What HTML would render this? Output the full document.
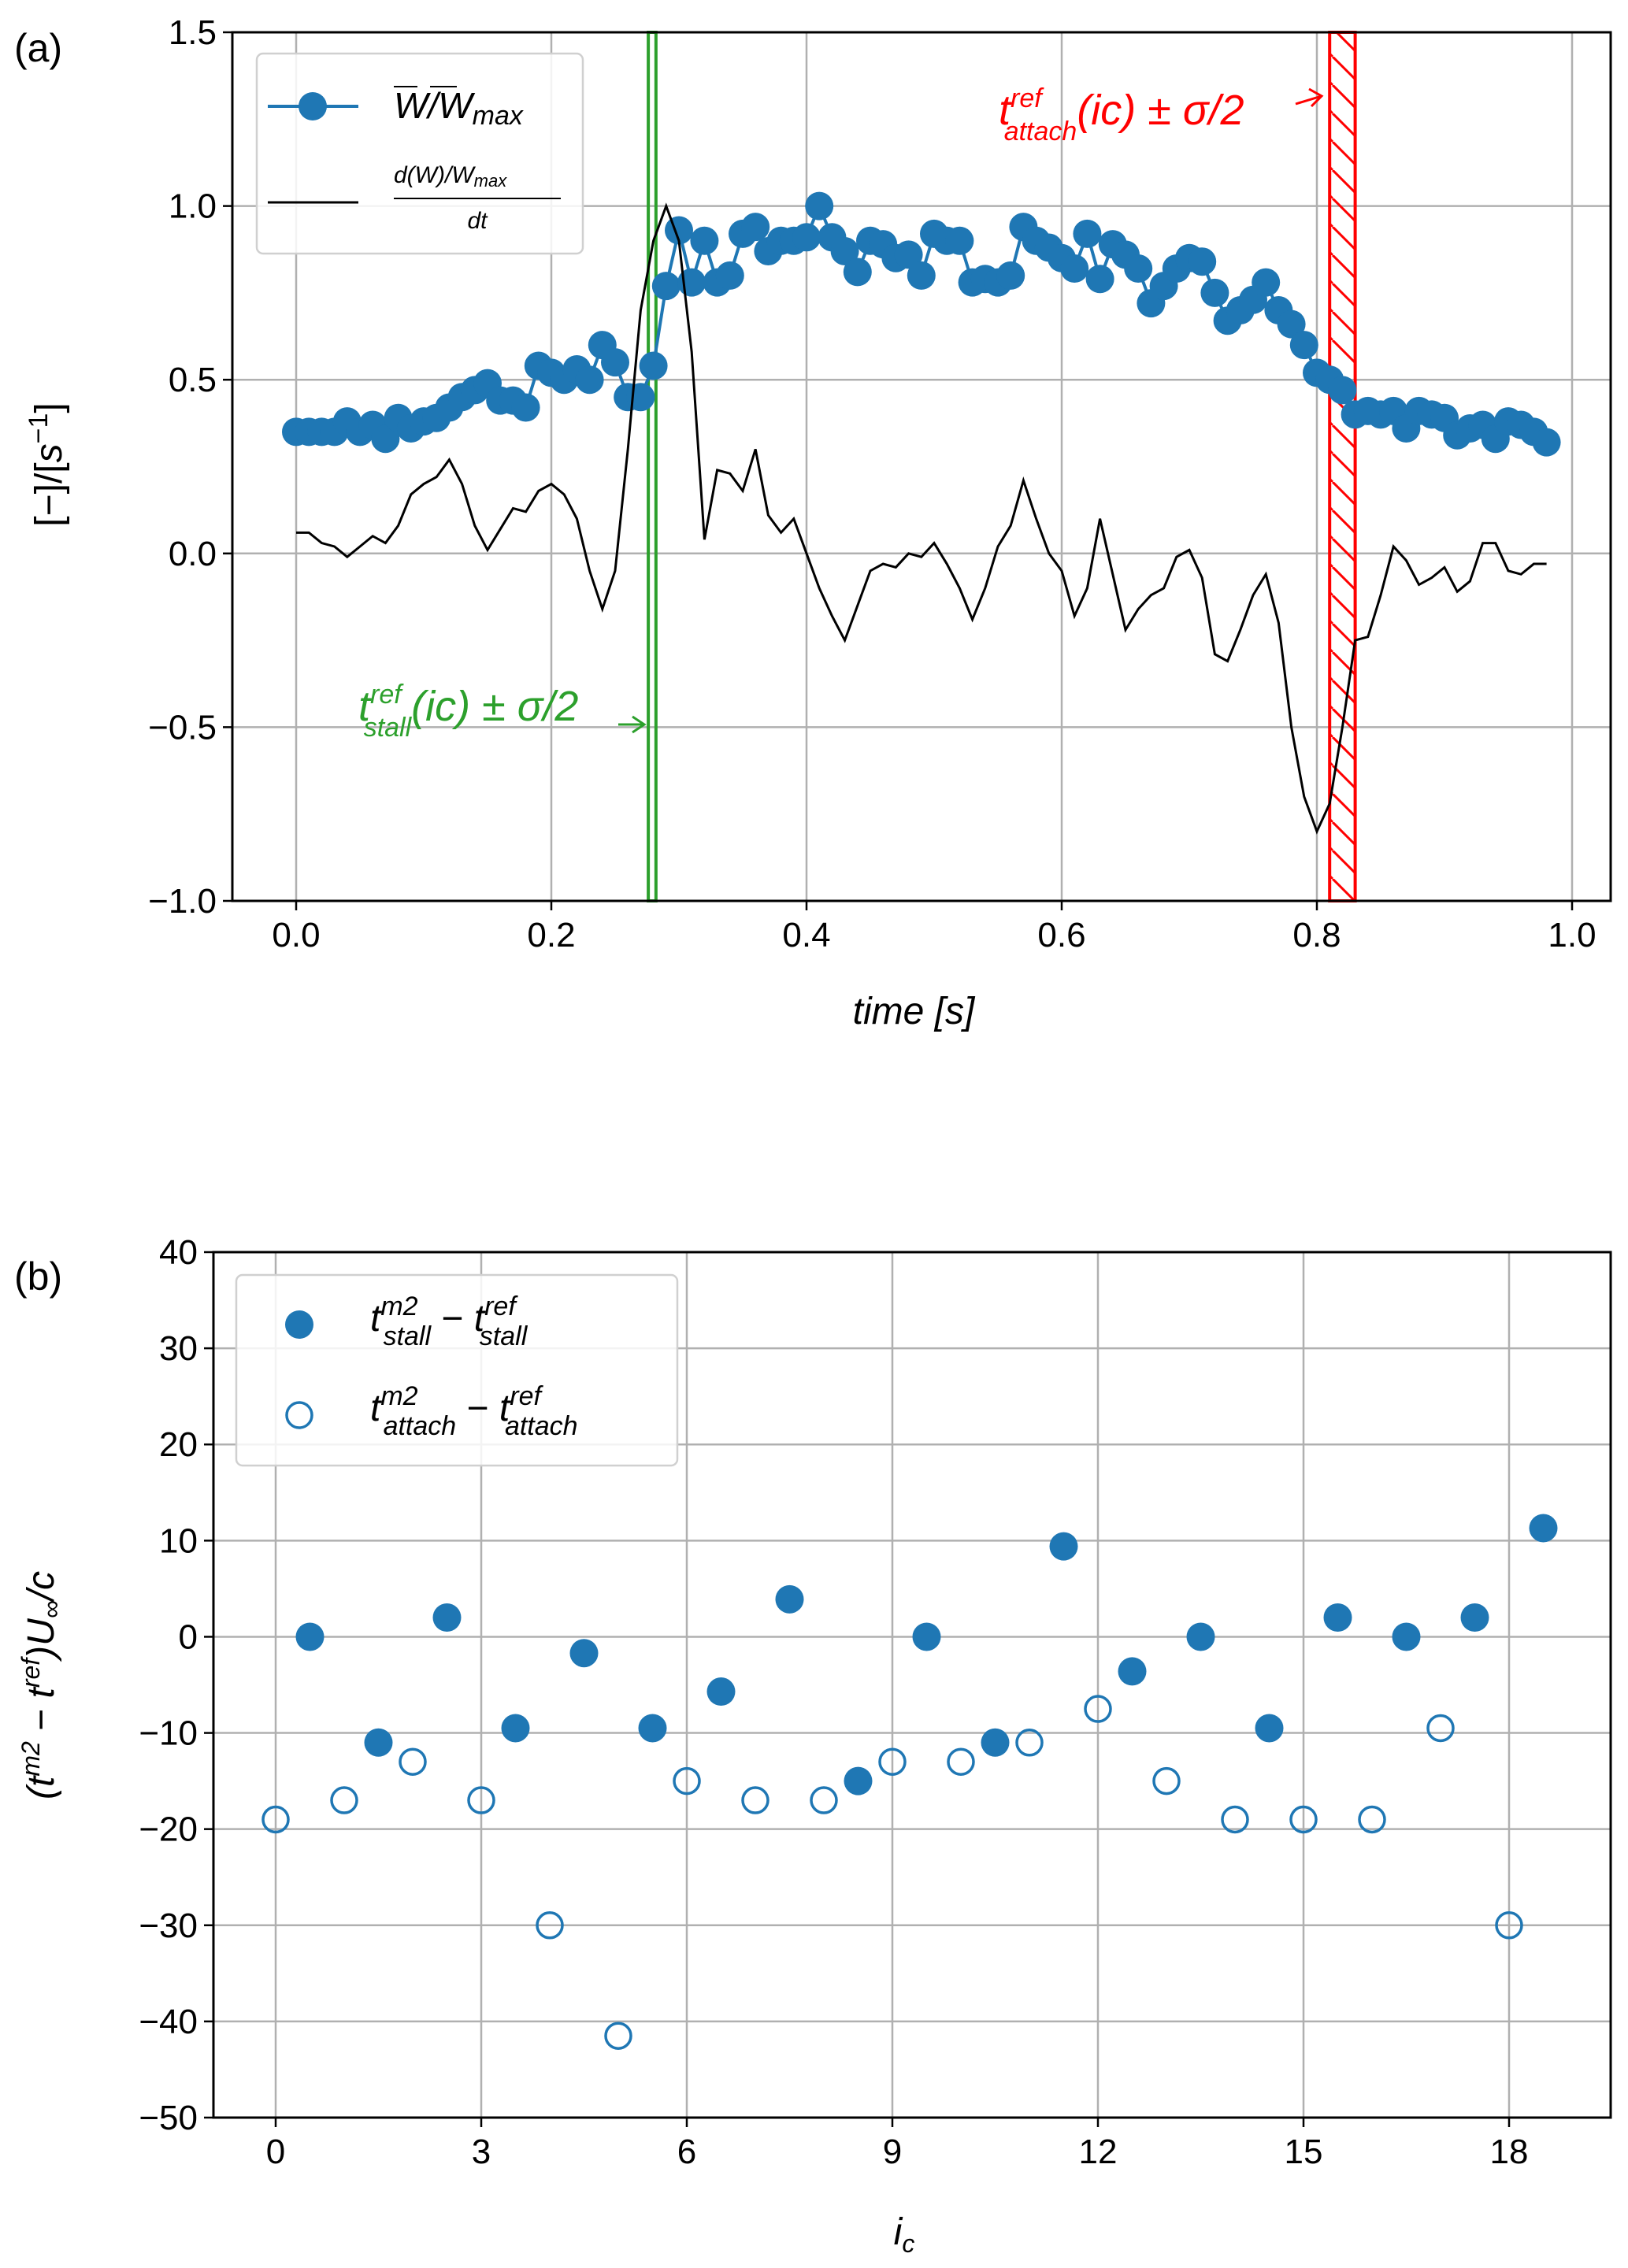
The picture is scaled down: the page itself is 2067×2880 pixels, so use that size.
<!DOCTYPE html>
<html><head><meta charset="utf-8"><style>
html,body{margin:0;padding:0;background:#fff}
svg{display:block;font-family:"Liberation Sans","DejaVu Sans",sans-serif}
</style></head><body>
<svg id="fig" width="2067" height="2880" viewBox="0 0 2067 2880" xmlns="http://www.w3.org/2000/svg">
<defs>
<pattern id="hatch" patternUnits="userSpaceOnUse" width="36" height="36">
<line x1="0" y1="0" x2="36" y2="36" stroke="#ff0000" stroke-width="3"/>
<line x1="-36" y1="0" x2="0" y2="36" stroke="#ff0000" stroke-width="3"/>
<line x1="36" y1="0" x2="72" y2="36" stroke="#ff0000" stroke-width="3"/>
</pattern>
</defs>
<g id="pa"></g>
<g id="pb"></g>
</svg>
<script>
const tA = [0,0.01,0.02,0.03,0.04,0.05,0.06,0.07,0.08,0.09,0.10,0.11,0.12,0.13,0.14,0.15,0.16,0.17,0.18,0.19,0.20,0.21,0.22,0.23,0.24,0.25,0.26,0.27,0.28,0.29,0.30,0.31,0.32,0.33,0.34,0.35,0.36,0.37,0.38,0.39,0.40,0.41,0.42,0.43,0.44,0.45,0.46,0.47,0.48,0.49,0.50,0.51,0.52,0.53,0.54,0.55,0.56,0.57,0.58,0.59,0.60,0.61,0.62,0.63,0.64,0.65,0.66,0.67,0.68,0.69,0.70,0.71,0.72,0.73,0.74,0.75,0.76,0.77,0.78,0.79,0.80,0.81,0.82,0.83,0.84,0.85,0.86,0.87,0.88,0.89,0.90,0.91,0.92,0.93,0.94,0.95,0.96,0.97,0.98];
const wNorm = [.35,.35,.35,.35,.38,.35,.37,.33,.39,.36,.38,.39,.42,.45,.47,.49,.44,.44,.42,.54,.52,.50,.53,.50,.60,.55,.45,.45,.54,.77,.93,.78,.90,.78,.80,.92,.94,.87,.90,.90,.91,1.00,.91,.87,.81,.90,.89,.85,.86,.80,.92,.90,.90,.78,.79,.78,.80,.94,.90,.88,.85,.82,.92,.79,.89,.86,.82,.72,.77,.82,.85,.84,.75,.67,.70,.73,.78,.70,.66,.60,.52,.50,.47,.40,.41,.40,.41,.36,.41,.40,.39,.34,.36,.37,.33,.38,.37,.35,.32];
const dwdt = [.06,.06,.03,.02,-.01,.02,.05,.03,.08,.17,.20,.22,.27,.20,.08,.01,.07,.13,.12,.18,.20,.17,.10,-.05,-.16,-.05,.30,.70,.90,1.00,.90,.58,.04,.24,.23,.18,.30,.11,.06,.10,.00,-.10,-.18,-.25,-.15,-.05,-.03,-.04,.00,-.01,.03,-.03,-.10,-.19,-.10,.02,.08,.21,.10,.00,-.05,-.18,-.10,.10,-.06,-.22,-.16,-.12,-.10,-.01,.01,-.07,-.29,-.31,-.22,-.12,-.06,-.20,-.50,-.70,-.80,-.72,-.50,-.25,-.24,-.12,.02,-.02,-.09,-.07,-.04,-.11,-.08,.03,.03,-.05,-.06,-.03,-.03];
const stallBand = [0.276, 0.282];
const attachBand = [0.810, 0.830];
const xTicksA = [0,0.2,0.4,0.6,0.8,1.0];
const xTickLabelsA = ["0.0","0.2","0.4","0.6","0.8","1.0"];
const yTicksA = [-1.0,-0.5,0,0.5,1.0,1.5];
const yTickLabelsA = ["\u22121.0","\u22120.5","0.0","0.5","1.0","1.5"];

const icStall = [0.5,1.5,2.5,3.5,4.5,5.5,6.5,7.5,8.5,9.5,10.5,11.5,12.5,13.5,14.5,15.5,16.5,17.5,18.5];
const dStall = [0,-11,2,-9.5,-1.7,-9.5,-5.7,3.9,-15,0,-11,9.4,-3.6,0,-9.5,2,0,2,11.3];
const icAttach = [0,1,2,3,4,5,6,7,8,9,10,11,12,13,14,15,16,17,18];
const dAttach = [-19,-17,-13,-17,-30,-41.5,-15,-17,-17,-13,-13,-11,-7.5,-15,-19,-19,-19,-9.5,-30];
const xTicksB = [0,3,6,9,12,15,18];
const yTicksB = [-50,-40,-30,-20,-10,0,10,20,30,40];

const NS="http://www.w3.org/2000/svg";
const BLUE="#1f77b4";
function mk(parent,tag,attrs,text){const e=document.createElementNS(NS,tag);for(const k in attrs)e.setAttribute(k,attrs[k]);if(text!==undefined)e.innerHTML=text;parent.appendChild(e);return e;}

// ---------- Panel A ----------
const pa=document.getElementById('pa');
const A={l:295,r:2045,t:41,b:1144};
const xa=t=>376+(1996-376)*t;
const ya=v=>1144-(v+1.0)/2.5*(1144-41);
let e;
e=mk(pa,'text',{x:18,y:78,'font-size':50});e.textContent='(a)';


xTicksA.forEach((v,i)=>{
  e=mk(pa,'line',{x1:xa(v),x2:xa(v),y1:A.t,y2:A.b,stroke:'#b0b0b0','stroke-width':2.5});
  
  
  mk(pa,'line',{x1:xa(v),x2:xa(v),y1:A.b,y2:A.b+12,stroke:'#000','stroke-width':2.5});
  e=mk(pa,'text',{x:xa(v),y:A.b+58,'font-size':44,'text-anchor':'middle'});e.textContent=xTickLabelsA[i];
  
  
});
yTicksA.forEach((v,i)=>{
  e=mk(pa,'line',{x1:A.l,x2:A.r,y1:ya(v),y2:ya(v),stroke:'#b0b0b0','stroke-width':2.5});
  
  
  mk(pa,'line',{x1:A.l-12,x2:A.l,y1:ya(v),y2:ya(v),stroke:'#000','stroke-width':2.5});
  e=mk(pa,'text',{x:A.l-20,y:ya(v)+15,'font-size':44,'text-anchor':'end'});e.textContent=yTickLabelsA[i];
  
  
});
e=mk(pa,'rect',{x:xa(stallBand[0]),y:A.t,width:xa(stallBand[1])-xa(stallBand[0]),height:A.b-A.t,fill:'none',stroke:'#2ca02c','stroke-width':4});


e=mk(pa,'rect',{x:xa(attachBand[0]),y:A.t,width:xa(attachBand[1])-xa(attachBand[0]),height:A.b-A.t,fill:'url(#hatch)',stroke:'#ff0000','stroke-width':4});


e=mk(pa,'polyline',{points:tA.map((t,i)=>xa(t)+','+ya(wNorm[i])).join(' '),fill:'none',stroke:BLUE,'stroke-width':4});


tA.forEach((t,i)=>{
  e=mk(pa,'circle',{cx:xa(t),cy:ya(wNorm[i]),r:18,fill:BLUE});
  
  
});
e=mk(pa,'polyline',{points:tA.map((t,i)=>xa(t)+','+ya(dwdt[i])).join(' '),fill:'none',stroke:'#000','stroke-width':3});


// annotations
e=mk(pa,'text',{x:455,y:915,'font-size':54,fill:'#2ca02c','font-style':'italic'},'t<tspan dy="-22" font-size="34">ref</tspan><tspan dx="-48" dy="42" font-size="34">stall</tspan><tspan dy="-20">(ic) ± σ/2</tspan>');


mk(pa,'path',{d:'M785 920 L818 920 M803 910 L818 920 L803 930',stroke:'#2ca02c','stroke-width':3,fill:'none'});
e=mk(pa,'text',{x:1268,y:158,'font-size':54,fill:'#ff0000','font-style':'italic'},'t<tspan dy="-22" font-size="34">ref</tspan><tspan dx="-48" dy="42" font-size="34">attach</tspan><tspan dy="-20">(ic) ± σ/2</tspan>');


mk(pa,'path',{d:'M1645 132 L1678 122 M1662 113 L1678 122 L1665 135',stroke:'#ff0000','stroke-width':3,fill:'none'});
e=mk(pa,'rect',{x:A.l,y:A.t,width:A.r-A.l,height:A.b-A.t,fill:'none',stroke:'#000','stroke-width':3});


e=mk(pa,'g',{});


mk(e,'rect',{x:326,y:68,width:414,height:254,rx:8,fill:'#fff','fill-opacity':0.85,stroke:'#d0d0d0','stroke-width':2.5});
mk(e,'line',{x1:340,x2:455,y1:135,y2:135,stroke:BLUE,'stroke-width':4});
mk(e,'circle',{cx:397,cy:135,r:18,fill:BLUE});
mk(e,'text',{x:500,y:150,'font-size':46,'font-style':'italic'},'W/W<tspan font-size="34" dy="8">max</tspan>');
mk(e,'line',{x1:500,x2:530,y1:110,y2:110,stroke:'#000','stroke-width':2});
mk(e,'line',{x1:546,x2:580,y1:110,y2:110,stroke:'#000','stroke-width':2});
mk(e,'line',{x1:340,x2:455,y1:257,y2:257,stroke:'#000','stroke-width':3});
mk(e,'text',{x:500,y:232,'font-size':30,'font-style':'italic'},'d(W)/W<tspan font-size="22" dy="5">max</tspan>');
mk(e,'line',{x1:500,x2:712,y1:252,y2:252,stroke:'#000','stroke-width':2});
mk(e,'text',{x:606,y:290,'font-size':30,'font-style':'italic','text-anchor':'middle'},'dt');
e=mk(pa,'text',{x:1160,y:1300,'font-size':48,'text-anchor':'middle','font-style':'italic'});e.textContent='time [s]';


e=mk(pa,'text',{x:0,y:0,'font-size':48,'text-anchor':'middle',transform:'translate(78,590) rotate(-90)'},'[−]/[<tspan font-style="italic">s</tspan><tspan dy="-18" font-size="34">−1</tspan><tspan dy="18">]</tspan>');



// ---------- Panel B ----------
const pb=document.getElementById('pb');
const B={l:271,r:2045,t:1590,b:2689};
const xb=v=>350+(1916-350)*v/18;
const yb=v=>2689-(v+50)/90*(2689-1590);
e=mk(pb,'text',{x:18,y:1638,'font-size':50});e.textContent='(b)';


xTicksB.forEach(v=>{
  e=mk(pb,'line',{x1:xb(v),x2:xb(v),y1:B.t,y2:B.b,stroke:'#b0b0b0','stroke-width':2.5});
  
  
  mk(pb,'line',{x1:xb(v),x2:xb(v),y1:B.b,y2:B.b+12,stroke:'#000','stroke-width':2.5});
  e=mk(pb,'text',{x:xb(v),y:B.b+58,'font-size':44,'text-anchor':'middle'});e.textContent=String(v);
  
  
});
yTicksB.forEach(v=>{
  e=mk(pb,'line',{x1:B.l,x2:B.r,y1:yb(v),y2:yb(v),stroke:'#b0b0b0','stroke-width':2.5});
  
  
  mk(pb,'line',{x1:B.l-12,x2:B.l,y1:yb(v),y2:yb(v),stroke:'#000','stroke-width':2.5});
  e=mk(pb,'text',{x:B.l-20,y:yb(v)+15,'font-size':44,'text-anchor':'end'});e.textContent=(v<0?'\u2212':'')+Math.abs(v);
  
  
});
icStall.forEach((x,i)=>{
  e=mk(pb,'circle',{cx:xb(x),cy:yb(dStall[i]),r:18,fill:BLUE});
  
  
});
icAttach.forEach((x,i)=>{
  e=mk(pb,'circle',{cx:xb(x),cy:yb(dAttach[i]),r:16,fill:'none',stroke:BLUE,'stroke-width':3.5});
  
  
});
e=mk(pb,'rect',{x:B.l,y:B.t,width:B.r-B.l,height:B.b-B.t,fill:'none',stroke:'#000','stroke-width':3});


e=mk(pb,'g',{});


mk(e,'rect',{x:300,y:1619,width:560,height:242,rx:8,fill:'#fff','fill-opacity':0.85,stroke:'#d0d0d0','stroke-width':2.5});
mk(e,'circle',{cx:380,cy:1682,r:18,fill:BLUE});
mk(e,'circle',{cx:380,cy:1797,r:16,fill:'none',stroke:BLUE,'stroke-width':3.5});
mk(e,'text',{x:470,y:1690,'font-size':48,'font-style':'italic'},'t<tspan dy="-20" font-size="34">m2</tspan><tspan dx="-44" dy="38" font-size="34">stall</tspan><tspan dy="-18" font-style="normal"> − </tspan>t<tspan dy="-20" font-size="34">ref</tspan><tspan dx="-46" dy="38" font-size="34">stall</tspan>');
mk(e,'text',{x:470,y:1804,'font-size':48,'font-style':'italic'},'t<tspan dy="-20" font-size="34">m2</tspan><tspan dx="-44" dy="38" font-size="34">attach</tspan><tspan dy="-18" font-style="normal"> − </tspan>t<tspan dy="-20" font-size="34">ref</tspan><tspan dx="-46" dy="38" font-size="34">attach</tspan>');
e=mk(pb,'text',{x:1148,y:2850,'font-size':48,'text-anchor':'middle','font-style':'italic'},'i<tspan font-size="32" dy="10">c</tspan>');


e=mk(pb,'text',{x:0,y:0,'font-size':48,'text-anchor':'middle',transform:'translate(68,2140) rotate(-90)','font-style':'italic'},'(t<tspan dy="-18" font-size="32">m2</tspan><tspan dy="18" font-style="normal"> − </tspan>t<tspan dy="-18" font-size="32">ref</tspan><tspan dy="18">)U</tspan><tspan dy="8" font-size="32">∞</tspan><tspan dy="-8">/c</tspan>');


</script>
</body></html>
